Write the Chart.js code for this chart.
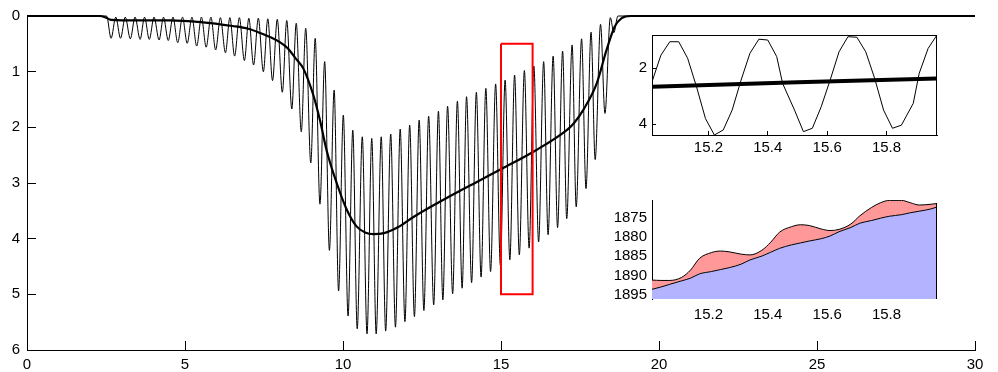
<!DOCTYPE html>
<html>
<head>
<meta charset="utf-8">
<script src="https://cdn.jsdelivr.net/npm/chart.js@4.4.1/dist/chart.umd.min.js"></script>
<style>
  html, body { margin: 0; padding: 0; background: #fff; }
  #wrap { position: relative; width: 998px; height: 372px; }
  #wrap canvas { position: absolute; left: 0; top: 0; }
</style>
</head>
<body>
<div id="wrap">
  <canvas id="main" width="998" height="372"></canvas>
  <canvas id="zoomWave" width="998" height="372"></canvas>
  <canvas id="zoomArea" width="998" height="372"></canvas>
</div>
<script>
// oscillating depth record: crests (shallow) and troughs (deep)
const crestX = [0, 2.52,
  2.81, 3.11, 3.42, 3.72, 4.02, 4.32, 4.62, 4.92, 5.22, 5.52,
  5.82, 6.12, 6.42, 6.72, 7.02, 7.32, 7.62, 7.92, 8.22, 8.52,
  8.82, 9.12, 9.42, 9.72, 10.01, 10.31, 10.61, 10.91, 11.21, 11.51,
  11.81, 12.11, 12.41, 12.71, 13.02, 13.31, 13.62, 13.91, 14.22, 14.52,
  14.83, 15.13, 15.43, 15.74, 16.04, 16.35, 16.65, 16.95, 17.25, 17.55,
  17.85, 18.15, 18.46,
  18.70, 30];
const crestY = [0, 0,
  0.02, 0.02, 0.02, 0.02, 0.02, 0.02, 0.02, 0.02, 0.02, 0.02,
  0.02, 0.03, 0.03, 0.03, 0.04, 0.04, 0.05, 0.06, 0.08, 0.13,
  0.22, 0.40, 0.82, 1.33, 1.78, 2.05, 2.17, 2.20, 2.17, 2.12,
  2.03, 1.96, 1.87, 1.80, 1.71, 1.62, 1.53, 1.45, 1.37, 1.30,
  1.22, 1.15, 1.06, 0.98, 0.90, 0.82, 0.72, 0.63, 0.52, 0.41,
  0.29, 0.15, 0.03,
  0, 0];
const troughX = [
  2.66, 2.96, 3.27, 3.58, 3.87, 4.18, 4.47, 4.77, 5.07, 5.37,
  5.67, 5.97, 6.28, 6.57, 6.88, 7.17, 7.48, 7.77, 8.08, 8.38,
  8.68, 8.98, 9.27, 9.57, 9.86, 10.16, 10.45, 10.76, 11.05, 11.35,
  11.66, 11.96, 12.26, 12.56, 12.87, 13.16, 13.47, 13.77, 14.07, 14.37,
  14.67, 14.98, 15.28, 15.58, 15.89, 16.19, 16.49, 16.79, 17.08, 17.38,
  17.69, 17.98, 18.29, 18.57];
const troughY = [
  0.40, 0.40, 0.41, 0.42, 0.42, 0.43, 0.44, 0.48, 0.49, 0.54,
  0.56, 0.61, 0.66, 0.72, 0.80, 0.88, 1.00, 1.16, 1.37, 1.67,
  2.08, 2.64, 3.38, 4.21, 4.94, 5.39, 5.62, 5.71, 5.71, 5.66,
  5.59, 5.49, 5.40, 5.29, 5.19, 5.10, 4.99, 4.89, 4.79, 4.69,
  4.59, 4.48, 4.38, 4.29, 4.17, 4.06, 3.93, 3.80, 3.64, 3.43,
  3.10, 2.58, 1.75, 0.30];

// smoothed (mean) depth
const meanX = [0, 2.3, 2.5, 2.66, 3.5, 4.5, 5.5, 6.5, 7.0, 7.4,
  7.7, 8.0, 8.25, 8.5, 8.75, 9.06, 9.27, 9.48, 9.8, 10.12,
  10.43, 10.7, 10.96, 11.3, 11.75, 12.23, 13.28, 14.34, 15.04, 16.08,
  17.08, 17.3, 17.6, 18.03, 18.34, 18.6, 18.82, 19.1, 30];
const meanY = [0, 0, 0.03, 0.07, 0.08, 0.08, 0.11, 0.18, 0.23, 0.31,
  0.38, 0.47, 0.58, 0.76, 0.95, 1.42, 1.87, 2.41, 3.0, 3.48,
  3.78, 3.89, 3.92, 3.90, 3.79, 3.61, 3.27, 2.95, 2.74, 2.42,
  2.05, 1.93, 1.69, 1.21, 0.61, 0.19, 0.04, 0, 0];

// window shown in the upper inset
const boxX = [15, 16, 16, 15, 15];
const boxY = [0.5, 0.5, 5, 5, 0.5];

// upper inset: raw samples and mean over 15-16
const zoomX = [15.01, 15.04, 15.07, 15.10, 15.13, 15.16, 15.19, 15.22, 15.25, 15.28,
  15.31, 15.34, 15.37, 15.40, 15.43, 15.45, 15.49, 15.52, 15.55, 15.58,
  15.61, 15.64, 15.67, 15.70, 15.73, 15.76, 15.79, 15.82, 15.85, 15.89,
  15.91, 15.94, 15.97];
const zoomWave = [2.48, 1.53, 1.05, 1.05, 1.64, 2.66, 3.79, 4.38, 4.20, 3.49,
  2.42, 1.46, 0.96, 0.99, 1.58, 2.54, 3.49, 4.26, 4.14, 3.37,
  2.42, 1.41, 0.87, 0.89, 1.41, 2.36, 3.49, 4.14, 4.03, 3.25,
  2.18, 1.29, 0.81];
const zoomMeanX = [15.01, 15.5, 15.97];
const zoomMeanY = [2.66, 2.50, 2.36];

// lower inset: two stacked levels
const areaX = [15.01, 15.04, 15.07, 15.11, 15.14, 15.17, 15.21, 15.24, 15.27, 15.31,
  15.34, 15.38, 15.41, 15.44, 15.48, 15.51, 15.54, 15.58, 15.61, 15.64,
  15.68, 15.71, 15.75, 15.78, 15.81, 15.85, 15.88, 15.91, 15.95, 15.97];
const lowerLevel = [1893.6, 1893.0, 1892.3, 1891.4, 1890.7, 1889.6, 1889.0, 1888.5, 1888.0, 1887.1,
  1886.0, 1885.0, 1884.0, 1883.0, 1882.1, 1881.6, 1881.1, 1880.5, 1879.8, 1878.7,
  1877.6, 1876.5, 1875.8, 1875.2, 1874.7, 1874.3, 1873.8, 1873.4, 1872.8, 1872.3];
const upperLevel = [1891.2, 1891.3, 1891.3, 1890.5, 1888.6, 1885.6, 1884.1, 1883.7, 1883.9, 1884.5,
  1884.7, 1883.5, 1881.4, 1878.8, 1877.4, 1876.9, 1877.1, 1878.0, 1878.4, 1878.1,
  1876.7, 1874.6, 1872.4, 1871.2, 1870.6, 1870.6, 1871.2, 1871.8, 1871.6, 1871.4];

const pts = (xs, ys) => xs.map((x, i) => ({ x, y: ys[i] }));

Chart.defaults.font.family = "'Liberation Sans', Arial, Helvetica, sans-serif";
Chart.defaults.font.size = 15;
Chart.defaults.color = '#000';

const base = {
  responsive: false,
  animation: false,
  devicePixelRatio: 1,
  events: [],
  plugins: { legend: { display: false }, tooltip: { enabled: false } },
  elements: { point: { radius: 0 } }
};

const plain = v => String(Math.round(v * 10) / 10);

// fixed-size axis with inward ticks; label overhang must not push the plot area
function axis(extra, tick, fitSize) {
  return Object.assign({
    type: 'linear',
    grid: { drawOnChartArea: false, drawTicks: tick !== 0, tickLength: tick, color: '#000', lineWidth: 1 },
    border: { display: true, color: '#000', width: 1 },
    afterFit: s => {
      if (s.isHorizontal()) s.height = fitSize; else s.width = fitSize;
      s.paddingTop = s.paddingBottom = s.paddingLeft = s.paddingRight = 0;
    }
  }, extra);
}

// draws extra frame edges that the axes do not provide
function frame(sides, fromLastPoint) {
  return {
    id: 'frame',
    afterDatasetsDraw(chart) {
      const { ctx, chartArea: a } = chart;
      ctx.save();
      ctx.strokeStyle = '#000';
      ctx.lineWidth = 1;
      ctx.beginPath();
      if (sides.includes('top')) {
        ctx.moveTo(a.left, a.top + 0.5);
        ctx.lineTo(a.right, a.top + 0.5);
      }
      if (sides.includes('right')) {
        let y0 = a.top;
        if (fromLastPoint) {
          const els = chart.getDatasetMeta(fromLastPoint).data;
          y0 = els[els.length - 1].y;
        }
        ctx.moveTo(a.right - 0.5, y0);
        ctx.lineTo(a.right - 0.5, a.bottom);
      }
      ctx.stroke();
      ctx.restore();
    }
  };
}

const waveData = pts(crestX, crestY).concat(pts(troughX, troughY)).sort((a, b) => a.x - b.x);

new Chart(document.getElementById('main'), {
  type: 'line',
  data: {
    datasets: [
      { data: pts(boxX, boxY), borderColor: '#ff0000', borderWidth: 2, tension: 0, clip: 4 },
      { data: pts(meanX, meanY), borderColor: '#000', borderWidth: 2.2, cubicInterpolationMode: 'monotone', clip: 4 },
      { data: waveData, borderColor: '#000', borderWidth: 1, cubicInterpolationMode: 'monotone', clip: 4 }
    ]
  },
  options: Object.assign({}, base, {
    layout: { autoPadding: false, padding: { left: 0, right: 23, top: 16, bottom: 0 } },
    scales: {
      x: axis({ min: 0, max: 30, ticks: { stepSize: 5, padding: 15, maxRotation: 0, autoSkip: false, callback: plain } }, -9, 22),
      y: axis({ min: 0, max: 6, reverse: true, ticks: { stepSize: 1, padding: 16, callback: plain } }, -9, 27)
    }
  })
});

new Chart(document.getElementById('zoomWave'), {
  type: 'line',
  data: {
    datasets: [
      { data: pts(zoomMeanX, zoomMeanY), borderColor: '#000', borderWidth: 4, tension: 0 },
      { data: pts(zoomX, zoomWave), borderColor: '#000', borderWidth: 1, tension: 0 }
    ]
  },
  options: Object.assign({}, base, {
    layout: { autoPadding: false, padding: { left: 600, right: 61, top: 35, bottom: 207 } },
    scales: {
      x: axis({ min: 15.01, max: 15.97, ticks: { stepSize: 0.2, padding: 8, maxRotation: 0, includeBounds: false, callback: plain } }, -4, 30),
      y: axis({ min: 0.81, max: 4.38, reverse: true, ticks: { stepSize: 2, padding: 9, includeBounds: false, callback: plain } }, -4, 52)
    }
  }),
  plugins: [frame(['top', 'right'])]
});

new Chart(document.getElementById('zoomArea'), {
  type: 'line',
  data: {
    datasets: [
      { data: pts(areaX, lowerLevel), borderColor: '#000', borderWidth: 1, backgroundColor: '#b3b3ff',
        fill: 'start', cubicInterpolationMode: 'monotone' },
      { data: pts(areaX, upperLevel), borderColor: '#000', borderWidth: 1, backgroundColor: '#ff9999',
        fill: 0, cubicInterpolationMode: 'monotone' }
    ]
  },
  options: Object.assign({}, base, {
    layout: { autoPadding: false, padding: { left: 600, right: 61, top: 200, bottom: 43 } },
    scales: {
      x: axis({ min: 15.01, max: 15.97, border: { display: false },
        ticks: { stepSize: 0.2, padding: 7, maxRotation: 0, includeBounds: false, callback: plain } }, 0, 30),
      y: axis({ min: 1870.5, max: 1896.1, reverse: true,
        ticks: { stepSize: 5, padding: 5, includeBounds: false, callback: plain } }, 0, 52)
    }
  }),
  plugins: [frame(['right'], 1)]
});
</script>
</body>
</html>
